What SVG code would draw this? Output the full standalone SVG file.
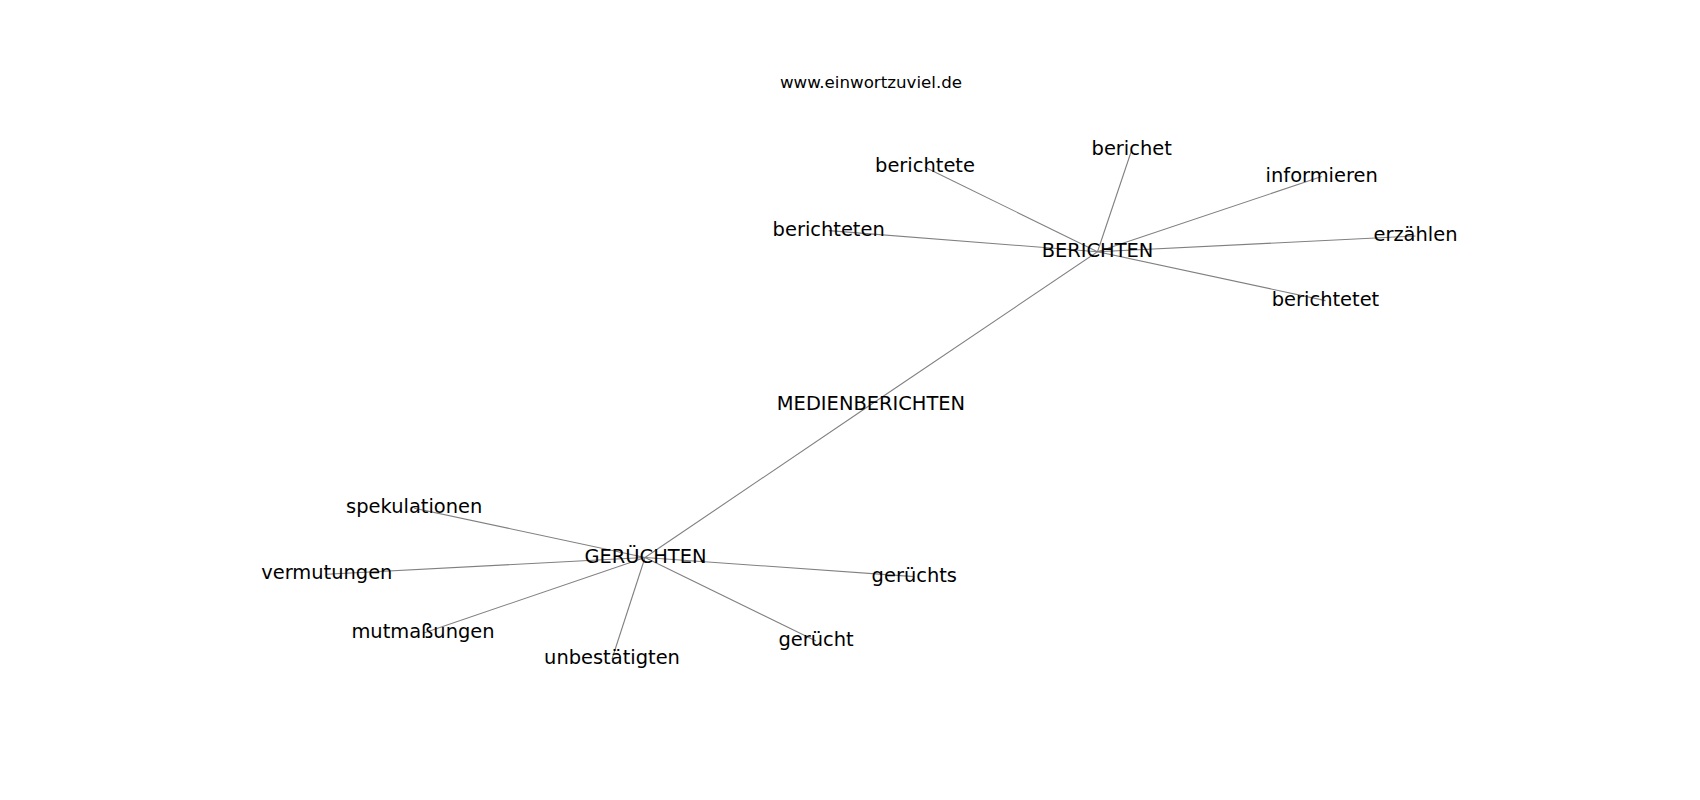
<svg xmlns="http://www.w3.org/2000/svg" width="1700" height="800" viewBox="0 0 1700 800">
<style>
.bg{fill:#ffffff}
.edge{stroke:#808080;stroke-width:1.1;fill:none}
.lbl{font-family:"DejaVu Sans","Liberation Sans",sans-serif;font-size:19.44px;fill:#000000;text-anchor:middle}
.title{font-family:"DejaVu Sans","Liberation Sans",sans-serif;font-size:16.67px;fill:#000000;text-anchor:middle}
</style>
<rect class="bg" x="0" y="0" width="1700" height="800"/>
<text class="title" x="871" y="87.7">www.einwortzuviel.de</text>
<g id="connectors">
<line class="edge" x1="871" y1="404.5" x2="1097.5" y2="251.7"/>
<line class="edge" x1="871" y1="404.5" x2="645" y2="557.5"/>
<line class="edge" x1="1097.5" y1="251.7" x2="925" y2="167.2"/>
<line class="edge" x1="1097.5" y1="251.7" x2="828.7" y2="230.6"/>
<line class="edge" x1="1097.5" y1="251.7" x2="1131.7" y2="150"/>
<line class="edge" x1="1097.5" y1="251.7" x2="1321.7" y2="176.6"/>
<line class="edge" x1="1097.5" y1="251.7" x2="1415.5" y2="236"/>
<line class="edge" x1="1097.5" y1="251.7" x2="1325.5" y2="300.6"/>
<line class="edge" x1="645" y1="557.5" x2="414.2" y2="508.2"/>
<line class="edge" x1="645" y1="557.5" x2="326.8" y2="574.2"/>
<line class="edge" x1="645" y1="557.5" x2="423" y2="633.2"/>
<line class="edge" x1="645" y1="557.5" x2="612" y2="659"/>
<line class="edge" x1="645" y1="557.5" x2="816" y2="641"/>
<line class="edge" x1="645" y1="557.5" x2="914.3" y2="576.6"/>
</g>
<g id="node-medienberichten"><text class="lbl" x="871" y="409.6">MEDIENBERICHTEN</text></g>
<g id="node-berichten"><text class="lbl" x="1097.5" y="256.8">BERICHTEN</text></g>
<g id="node-geruechten"><text class="lbl" x="645.5" y="562.6">GERÜCHTEN</text></g>
<g id="node-berichtete"><text class="lbl" x="925" y="172.3">berichtete</text></g>
<g id="node-berichteten"><text class="lbl" x="828.7" y="235.7">berichteten</text></g>
<g id="node-berichet"><text class="lbl" x="1131.7" y="155.1">berichet</text></g>
<g id="node-informieren"><text class="lbl" x="1321.7" y="181.7">informieren</text></g>
<g id="node-erzaehlen"><text class="lbl" x="1415.5" y="241.1">erzählen</text></g>
<g id="node-berichtetet"><text class="lbl" x="1325.5" y="305.7">berichtetet</text></g>
<g id="node-spekulationen"><text class="lbl" x="414.2" y="513.3">spekulationen</text></g>
<g id="node-vermutungen"><text class="lbl" x="326.8" y="579.3">vermutungen</text></g>
<g id="node-mutmassungen"><text class="lbl" x="423" y="638.3">mutmaßungen</text></g>
<g id="node-unbestaetigten"><text class="lbl" x="612" y="664.1">unbestätigten</text></g>
<g id="node-geruecht"><text class="lbl" x="816" y="646.1">gerücht</text></g>
<g id="node-geruechts"><text class="lbl" x="914.3" y="581.7">gerüchts</text></g>
</svg>
